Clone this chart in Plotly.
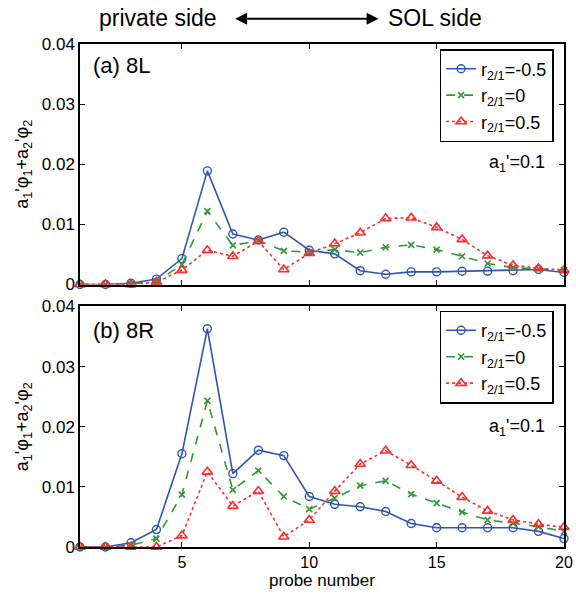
import plotly.graph_objects as go
from plotly.subplots import make_subplots

probe = list(range(1, 21))

# panel (a) 8L
a_neg = [0, 0, 0.0002, 0.0009, 0.0043, 0.0189, 0.0084, 0.0074, 0.0087, 0.0057,
         0.0051, 0.0023, 0.0017, 0.0021, 0.0021, 0.0022, 0.0022, 0.0023, 0.0025, 0.0020]
a_zero = [0, 0, 0.0001, 0.0005, 0.0033, 0.0122, 0.0065, 0.0073, 0.0056, 0.0054,
          0.0058, 0.0053, 0.0062, 0.0066, 0.0058, 0.0047, 0.0035, 0.0028, 0.0026, 0.0024]
a_pos = [0, 0, 0, 0.0004, 0.0024, 0.0057, 0.0047, 0.0072, 0.0025, 0.0052,
         0.0068, 0.0086, 0.0110, 0.0111, 0.0095, 0.0075, 0.0048, 0.0032, 0.0027, 0.0024]

# panel (b) 8R
b_neg = [0, 0, 0.0007, 0.0029, 0.0155, 0.0363, 0.0122, 0.0161, 0.0152, 0.0084,
         0.0071, 0.0067, 0.0059, 0.0039, 0.0032, 0.0032, 0.0032, 0.0032, 0.0026, 0.0014]
b_zero = [0, 0, 0.0003, 0.0014, 0.0087, 0.0243, 0.0095, 0.0127, 0.0084, 0.0063,
          0.0081, 0.0102, 0.0110, 0.0088, 0.0073, 0.0058, 0.0045, 0.0039, 0.0034, 0.0026]
b_pos = [0, 0, 0, 0, 0.0019, 0.0125, 0.0068, 0.0093, 0.0017, 0.0045,
         0.0093, 0.0138, 0.0160, 0.0136, 0.0110, 0.0083, 0.0060, 0.0045, 0.0038, 0.0033]

names = ["r<sub>2/1</sub>=-0.5", "r<sub>2/1</sub>=0", "r<sub>2/1</sub>=0.5"]
y_ticks = [0, 0.01, 0.02, 0.03, 0.04]
y_ticktext = ["0", "0.01", "0.02", "0.03", "0.04"]
x_ticks = [5, 10, 15, 20]

BLUE = "#2f55b4"
GREEN = "#2e9a36"
RED = "#ff2a2a"
FONT = "Liberation Sans, Arial, sans-serif"

styles = [
    dict(line=dict(color=BLUE, width=1.6, dash="solid"),
         marker=dict(symbol="circle-open", size=8, color=BLUE, line=dict(width=1.4))),
    dict(line=dict(color=GREEN, width=1.6, dash="dash"),
         marker=dict(symbol="x-thin-open", size=6, color=GREEN, line=dict(width=1.6, color=GREEN))),
    dict(line=dict(color=RED, width=1.6, dash="dot"),
         marker=dict(symbol="triangle-up-open", size=9, color=RED, line=dict(width=1.6))),
]

fig = make_subplots(rows=2, cols=1, vertical_spacing=0.0437)
top_sets = [a_neg, a_zero, a_pos]
bot_sets = [b_neg, b_zero, b_pos]
for i in range(3):
    fig.add_trace(go.Scatter(x=probe, y=top_sets[i], mode="lines+markers", name=names[i],
                             legend="legend", cliponaxis=False, **styles[i]), row=1, col=1)
for i in range(3):
    fig.add_trace(go.Scatter(x=probe, y=bot_sets[i], mode="lines+markers", name=names[i],
                             legend="legend2", cliponaxis=False, **styles[i]), row=2, col=1)

axis_common = dict(showline=True, linecolor="black", linewidth=1.5, mirror="ticks",
                   ticks="inside", ticklen=5, tickwidth=1.2, tickcolor="black",
                   showgrid=False, zeroline=False, tickfont=dict(size=17, color="black", family=FONT))

fig.update_xaxes(range=[1, 20], tickvals=x_ticks, automargin=False, **axis_common)
fig.update_xaxes(tickfont=dict(size=16, color="black", family=FONT), ticklabeloverflow="allow")
fig.update_xaxes(showticklabels=False, row=1, col=1)
fig.update_xaxes(title=dict(text="probe number", font=dict(size=17, color="black", family=FONT), standoff=1),
                 row=2, col=1)
ytitle = "a<sub>1</sub>'φ<sub>1</sub>+a<sub>2</sub>'φ<sub>2</sub>"
fig.update_yaxes(range=[0, 0.04], tickvals=y_ticks, ticktext=y_ticktext,
                 title=dict(text=ytitle, font=dict(size=18, color="black", family=FONT), standoff=8),
                 **axis_common)

leg_common = dict(xanchor="left", yanchor="top",
                  bordercolor="black", borderwidth=1.5, bgcolor="white",
                  font=dict(size=18, color="black", family=FONT), tracegroupgap=0, itemwidth=30)
fig.update_layout(
    width=576, height=594,
    margin=dict(l=80, r=10, t=44, b=47),
    plot_bgcolor="white", paper_bgcolor="white",
    font=dict(family=FONT, color="black"),
    legend=dict(x=0.743, y=0.99, **leg_common),
    legend2=dict(x=0.743, y=0.47, **leg_common),
)

ann_font = dict(size=22, color="black", family=FONT)
fig.add_annotation(text="(a) 8L", xref="x domain", yref="y domain", x=0.022, y=0.91,
                   xanchor="left", yanchor="middle", showarrow=False, font=ann_font)
fig.add_annotation(text="(b) 8R", xref="x2 domain", yref="y2 domain", x=0.022, y=0.9,
                   xanchor="left", yanchor="middle", showarrow=False, font=ann_font)
a1_font = dict(size=18, color="black", family=FONT)
fig.add_annotation(text="a<sub>1</sub>'=0.1", xref="x domain", yref="y domain", x=0.965, y=0.505,
                   xanchor="right", yanchor="middle", showarrow=False, font=a1_font)
fig.add_annotation(text="a<sub>1</sub>'=0.1", xref="x2 domain", yref="y2 domain", x=0.965, y=0.495,
                   xanchor="right", yanchor="middle", showarrow=False, font=a1_font)

# header
hdr_font = dict(size=23, color="black", family=FONT)
fig.add_annotation(text="private side", xref="paper", yref="paper", x=0.035, y=1.052,
                   xanchor="left", yanchor="middle", showarrow=False, font=hdr_font)
fig.add_annotation(text="SOL side", xref="paper", yref="paper", x=0.835, y=1.052,
                   xanchor="right", yanchor="middle", showarrow=False, font=hdr_font)
fig.add_annotation(text="", xref="paper", yref="paper", x=0.617, y=1.050,
                   ax=-145, ay=0, axref="pixel", ayref="pixel",
                   showarrow=True, arrowhead=2, arrowside="end+start", arrowsize=1.2,
                   arrowwidth=2, arrowcolor="black")

fig.write_html("out.html")
